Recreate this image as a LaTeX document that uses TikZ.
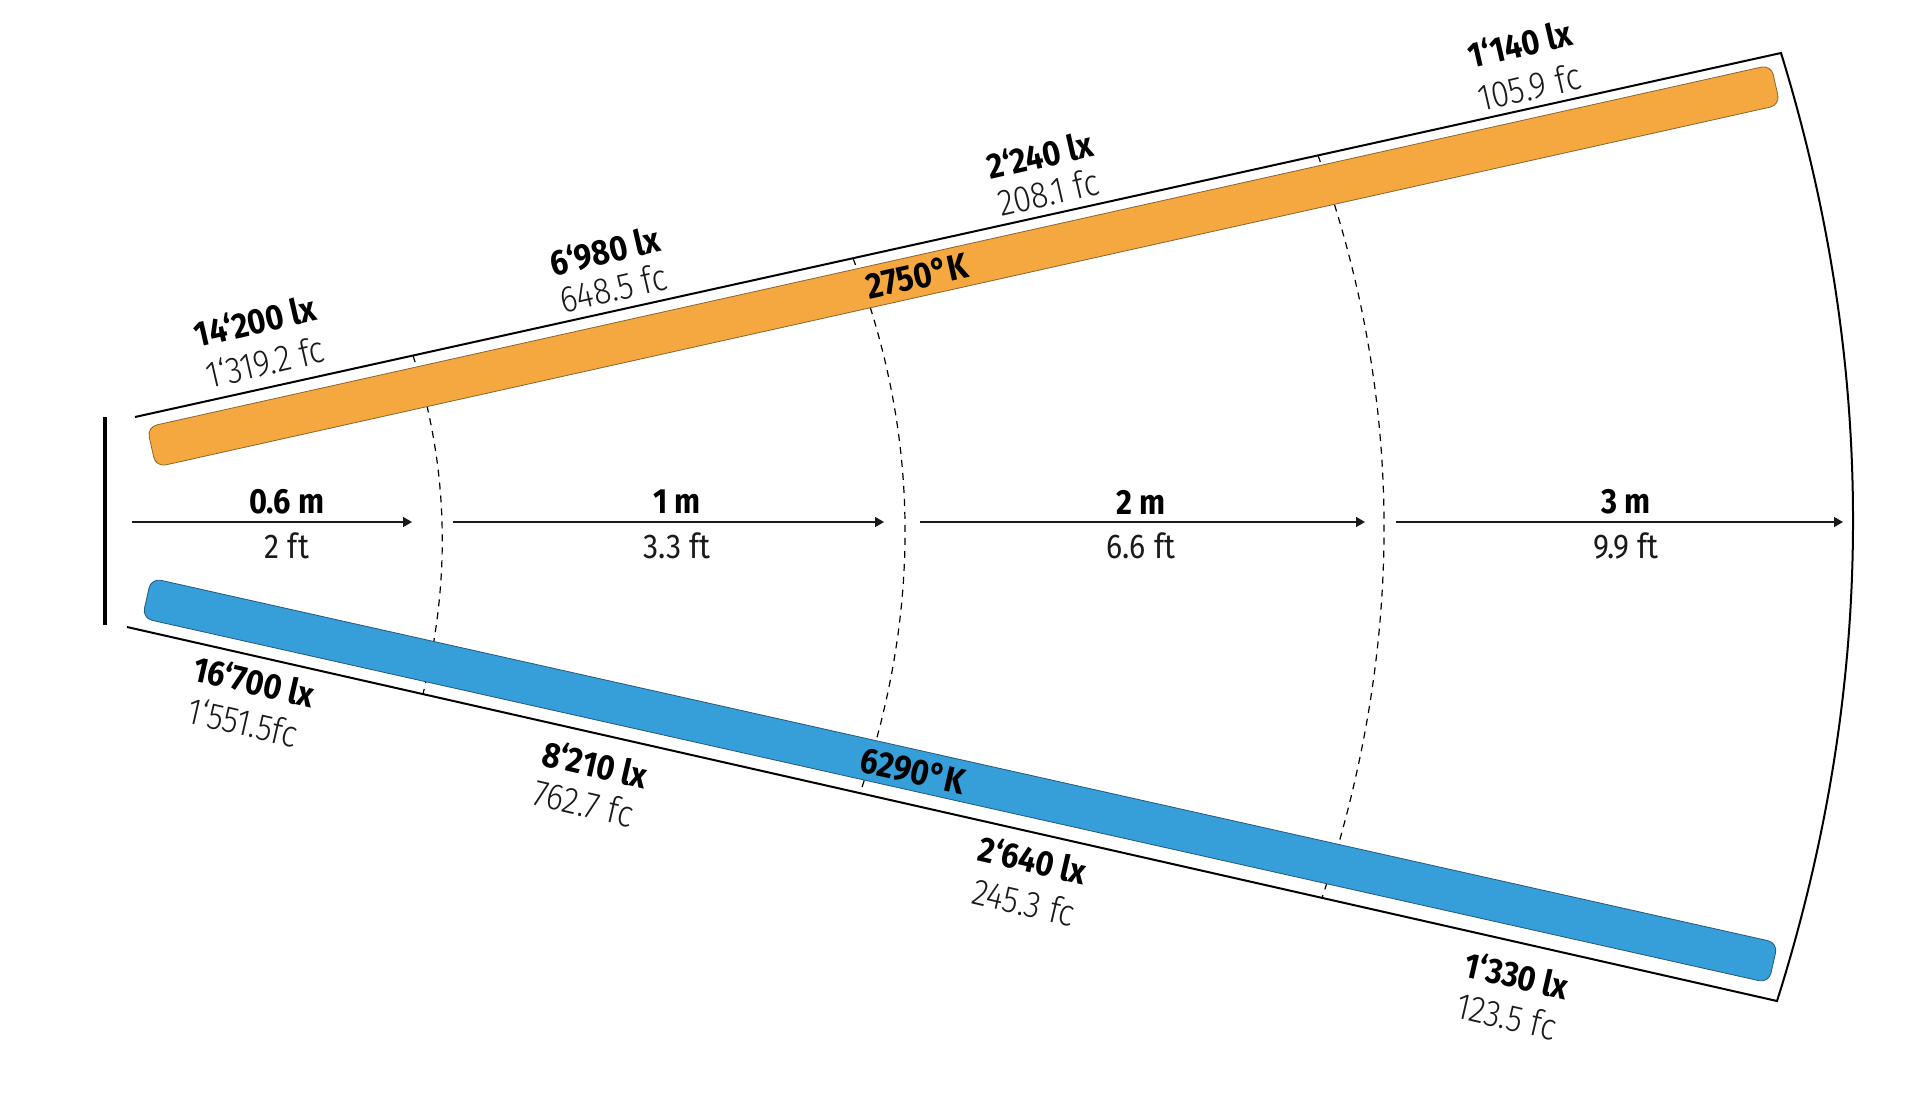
\documentclass[tikz,border=0pt]{standalone}
\usepackage{fontspec}
\setmainfont{Fira Sans}[FakeStretch=0.88]
\newfontfamily\thinface{Fira Sans Light}[FakeStretch=0.88]
\usetikzlibrary{arrows.meta}
\definecolor{warm}{HTML}{F5A840}
\definecolor{warmedge}{HTML}{8A6530}
\definecolor{cool}{HTML}{369FD9}
\definecolor{cooledge}{HTML}{24587E}
\definecolor{ink}{HTML}{1A1A1A}
\begin{document}
\begin{tikzpicture}[x=0.5pt,y=-0.5pt,
  edge/.style={line width=1pt, black, line join=miter},
  dist/.style={line width=0.6pt, black, dash pattern=on 3.5pt off 3pt},
  dimarrow/.style={line width=0.75pt, ink, -{Triangle[length=4.5pt,width=5pt]}},
  lampbar/.style={rounded corners=5pt, line width=0.4pt, minimum height=20.5pt, inner sep=0, anchor=center},
  lxlbl/.style={font=\bfseries\fontsize{17.7}{20}\selectfont, inner sep=0, black},
  fclbl/.style={font=\thinface\fontsize{18.5}{21}\selectfont, inner sep=0, ink},
  mlbl/.style={font=\bfseries\fontsize{17.5}{20}\selectfont, inner sep=0, black},
  ftlbl/.style={font=\fontsize{17.2}{20}\selectfont, inner sep=0, ink},
  klbl/.style={font=\bfseries\fontsize{18}{21}\selectfont, inner sep=0, black}]
\useasboundingbox (0,0) rectangle (1920,1108);
\fill[white] (0,0) rectangle (1920,1108);

% outline of the beam
\coordinate (t0) at (135,417);
\coordinate (t1) at (1781,53);
\coordinate (b1) at (1777,1001);
\coordinate (b0) at (127,627);

% dashed distance arcs (under the bars)
\draw[dist] (413,355.5) .. controls (448.3,464.7) and (451.7,577.5) .. (423,694);
\draw[dist] (853,258.3) .. controls (920,431.6) and (922.3,609.9) .. (860,793.1);
\draw[dist] (1318,155.4) .. controls (1404.7,396.7) and (1406,644.2) .. (1322,897.9);

\draw[edge] (t0) -- (t1) .. controls (1878.3,369) and (1877,685) .. (b1) -- (b0);

% source bar
\coordinate (s0) at (105,417);
\coordinate (s1) at (105,625);
\draw[line width=2pt, black] (s0) -- (s1);

% colour bars
\node[lampbar, draw=warmedge, fill=warm, minimum width=832pt, rotate=12.57] (obar) at (963.5,266) {};
\node[lampbar, draw=cooledge, fill=cool, minimum width=833.5pt, rotate=-12.64] (bbar) at (960,780.5) {};
\node[klbl, rotate=12.57] (ok) at (917,276) {2750°K};
\node[klbl, rotate=-12.64] (bk) at (913,771) {6290°K};

% distance arrows
\coordinate (a1s) at (132,522);  \coordinate (a1e) at (412,522);
\coordinate (a2s) at (453,522);  \coordinate (a2e) at (884,522);
\coordinate (a3s) at (920,522);  \coordinate (a3e) at (1365,522);
\coordinate (a4s) at (1396,522); \coordinate (a4e) at (1843,522);
\draw[dimarrow] (a1s) -- (a1e);
\draw[dimarrow] (a2s) -- (a2e);
\draw[dimarrow] (a3s) -- (a3e);
\draw[dimarrow] (a4s) -- (a4e);

\node[mlbl] (m1) at (287,502) {0.6 m};
\node[ftlbl] (f1) at (287,546) {2 ft};
\node[mlbl] (m2) at (677,502) {1 m};
\node[ftlbl] (f2) at (677,546) {3.3 ft};
\node[mlbl] (m3) at (1141,502) {2 m};
\node[ftlbl] (f3) at (1141,546) {6.6 ft};
\node[mlbl] (m4) at (1626,502) {3 m};
\node[ftlbl] (f4) at (1626,546) {9.9 ft};

% warm readings (top)
\node[lxlbl, rotate=13] (tl1) at (255,321) {14‘200 lx};
\node[fclbl, rotate=13] (tf1) at (265,362) {1‘319.2 fc};
\node[lxlbl, rotate=13] (tl2) at (605,251) {6‘980 lx};
\node[fclbl, rotate=13] (tf2) at (613,288) {648.5 fc};
\node[lxlbl, rotate=13] (tl3) at (1040,155) {2‘240 lx};
\node[fclbl, rotate=13] (tf3) at (1048,192) {208.1 fc};
\node[lxlbl, rotate=13] (tl4) at (1520,44) {1‘140 lx};
\node[fclbl, rotate=13] (tf4) at (1529,87) {105.9 fc};

% cool readings (bottom)
\node[lxlbl, rotate=-13] (bl1) at (254,681) {16‘700 lx};
\node[fclbl, rotate=-13] (bf1) at (243,722) {1‘551.5fc};
\node[lxlbl, rotate=-13] (bl2) at (595,764) {8‘210 lx};
\node[fclbl, rotate=-13] (bf2) at (584,803) {762.7 fc};
\node[lxlbl, rotate=-13] (bl3) at (1033,860) {2‘640 lx};
\node[fclbl, rotate=-13] (bf3) at (1024,902) {245.3 fc};
\node[lxlbl, rotate=-13] (bl4) at (1517,975) {1‘330 lx};
\node[fclbl, rotate=-13] (bf4) at (1507,1016) {123.5 fc};
\end{tikzpicture}
\end{document}
